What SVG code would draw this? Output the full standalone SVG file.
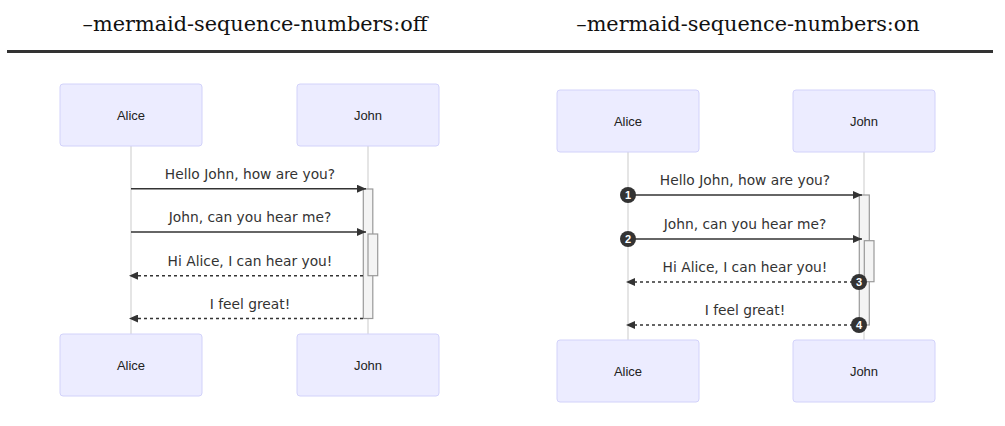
<svg xmlns="http://www.w3.org/2000/svg" width="1005" height="426" viewBox="0 0 1005 426">
<style>
.hdr{font-family:"DejaVu Serif","Liberation Serif",serif;font-size:20.8px;fill:#111;text-anchor:middle}
.actor rect{fill:#ECECFF;stroke:#d2d2fa;stroke-width:1}
.actor text{font-family:"Liberation Sans",Arial,sans-serif;font-size:13px;fill:#222;text-anchor:middle}
.life{stroke:#dcdcdc;stroke-width:1.5}
.act{fill:#f4f4f4;stroke:#999;stroke-width:1.2}
.msg{stroke:#333;stroke-width:1.5;fill:none}
.dot{stroke-dasharray:3,3}
.mtxt{font-family:"DejaVu Sans",Verdana,sans-serif;font-size:13.8px;fill:#333;text-anchor:middle}
.num circle{fill:#333}
.num text{font-family:"Liberation Sans",Arial,sans-serif;font-size:11px;font-weight:bold;fill:#fff;text-anchor:middle}
</style>
<defs>
<marker id="ah" markerUnits="userSpaceOnUse" markerWidth="10" markerHeight="8" refX="9" refY="4" orient="auto">
<path d="M0,0 L9,4 L0,8 z" fill="#333"/>
</marker>
</defs>
<g id="header">
<text class="hdr" x="255" y="31">–mermaid-sequence-numbers:off</text>
<text class="hdr" x="748" y="31">–mermaid-sequence-numbers:on</text>
<rect x="7" y="50" width="986" height="3" fill="#333"/>
</g>
<g id="lifelines">
<line class="life" x1="131" y1="146" x2="131" y2="334"/>
<line class="life" x1="368" y1="146" x2="368" y2="334"/>
<line class="life" x1="628" y1="152" x2="628" y2="340"/>
<line class="life" x1="864" y1="152" x2="864" y2="340"/>
</g>
<g id="alice-top-off" class="actor"><rect x="60" y="84" width="142" height="62" rx="3"/><text x="131" y="119.5">Alice</text></g>
<g id="john-top-off" class="actor"><rect x="297" y="84" width="142" height="62" rx="3"/><text x="368" y="119.5">John</text></g>
<g id="alice-bot-off" class="actor"><rect x="60" y="334" width="142" height="62" rx="3"/><text x="131" y="370">Alice</text></g>
<g id="john-bot-off" class="actor"><rect x="297" y="334" width="142" height="62" rx="3"/><text x="368" y="370">John</text></g>
<g id="alice-top-on" class="actor"><rect x="557" y="90" width="142" height="62" rx="3"/><text x="628" y="125.5">Alice</text></g>
<g id="john-top-on" class="actor"><rect x="793" y="90" width="142" height="62" rx="3"/><text x="864" y="125.5">John</text></g>
<g id="alice-bot-on" class="actor"><rect x="557" y="340" width="142" height="62" rx="3"/><text x="628" y="375.5">Alice</text></g>
<g id="john-bot-on" class="actor"><rect x="793" y="340" width="142" height="62" rx="3"/><text x="864" y="375.5">John</text></g>
<g id="activations">
<rect class="act" x="363.3" y="189" width="9.5" height="129.5"/>
<rect class="act" x="368" y="234" width="9.7" height="41.7"/>
<rect class="act" x="859.3" y="195" width="10" height="130"/>
<rect class="act" x="864.3" y="240.7" width="9.7" height="41"/>
</g>
<g id="connectors">
<line class="msg" x1="131" y1="188.7" x2="366" y2="188.7" marker-end="url(#ah)"/>
<line class="msg" x1="131" y1="232" x2="366" y2="232" marker-end="url(#ah)"/>
<line class="msg dot" x1="363" y1="275.7" x2="129" y2="275.7" marker-end="url(#ah)"/>
<line class="msg dot" x1="363" y1="318.5" x2="129" y2="318.5" marker-end="url(#ah)"/>
<line class="msg" x1="628" y1="195" x2="862" y2="195" marker-end="url(#ah)"/>
<line class="msg" x1="628" y1="239" x2="862" y2="239" marker-end="url(#ah)"/>
<line class="msg dot" x1="859" y1="282" x2="626" y2="282" marker-end="url(#ah)"/>
<line class="msg dot" x1="859" y1="325" x2="626" y2="325" marker-end="url(#ah)"/>
</g>
<g id="message-labels">
<text class="mtxt" x="250" y="179">Hello John, how are you?</text>
<text class="mtxt" x="250" y="222">John, can you hear me?</text>
<text class="mtxt" x="250" y="265.7">Hi Alice, I can hear you!</text>
<text class="mtxt" x="250" y="308.5">I feel great!</text>
<text class="mtxt" x="745" y="185">Hello John, how are you?</text>
<text class="mtxt" x="745" y="229">John, can you hear me?</text>
<text class="mtxt" x="745" y="272">Hi Alice, I can hear you!</text>
<text class="mtxt" x="745" y="315">I feel great!</text>
</g>
<g id="sequence-numbers" class="num">
<circle cx="628" cy="195" r="8"/><text x="628" y="199">1</text>
<circle cx="628" cy="239" r="8"/><text x="628" y="243">2</text>
<circle cx="859" cy="282" r="8"/><text x="859" y="286">3</text>
<circle cx="859" cy="325" r="8"/><text x="859" y="329">4</text>
</g>
</svg>
